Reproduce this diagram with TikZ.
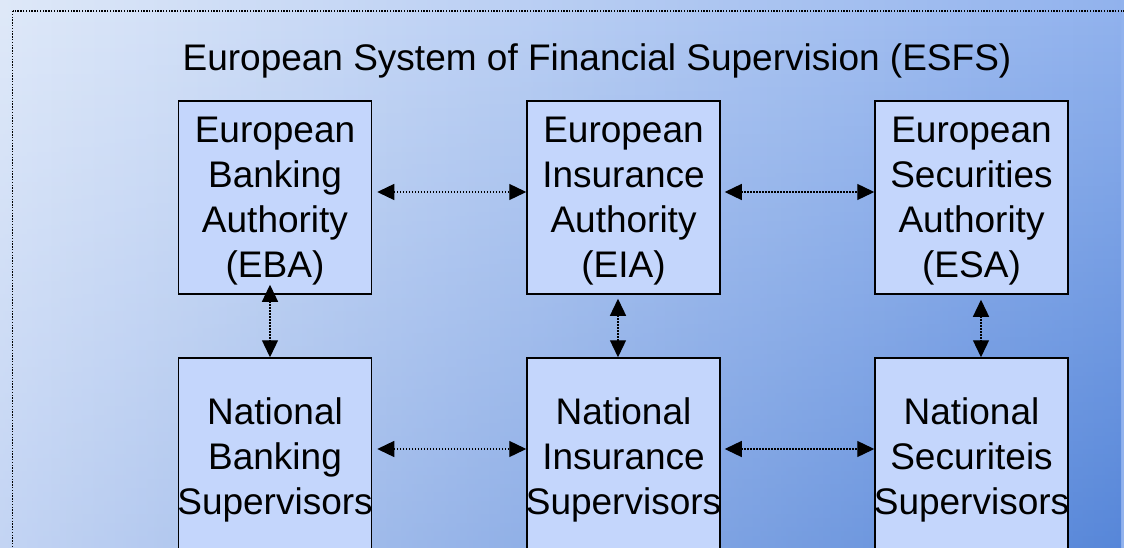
\documentclass[tikz,border=0pt]{standalone}
\usepackage{fontspec}
\setmainfont{Liberation Sans}
\usetikzlibrary{arrows.meta,fadings}
\definecolor{bgTL}{RGB}{223,233,249}
\definecolor{bgTR}{RGB}{146,179,238}
\definecolor{ovL}{RGB}{168,192,238}
\definecolor{ovR}{RGB}{27,90,196}
\definecolor{boxfill}{RGB}{196,214,252}
\tikzset{
  box/.style={draw=black, line width=1.5pt, fill=boxfill, minimum width=193pt, inner sep=0pt},
  toprow/.style={box, minimum height=193pt},
  botrow/.style={box, minimum height=204pt},
  lbl/.style={align=center, inner sep=0pt, font=\fontsize{37}{45}\selectfont},
  conn/.style={line width=1.3pt, dash pattern=on 1.5pt off 1.5pt, {Triangle[length=17pt,width=16pt]}-{Triangle[length=17pt,width=16pt]}}
}
\begin{document}
\begin{tikzpicture}[x=1pt,y=-1pt]
\useasboundingbox (0,0) rectangle (1124,548);
\clip (0,0) rectangle (1124,548);
% background
\shade[left color=bgTL, right color=bgTR] (0,0) rectangle (1124,548);
\shade[left color=ovL, right color=ovR, opacity=0.5, path fading=north] (0,0) rectangle (1124,548);
% outer dotted frame
\draw[line width=1.4pt, dash pattern=on 1.4pt off 1.4pt] (12.5,11) rectangle (1150,600);
% title
\node[lbl, anchor=base] (title) at (597,71) {European System of Financial Supervision (ESFS)};
% boxes
\node[toprow] (eba) at (275,197.5) {};
\node[toprow] (eia) at (623.5,197.5) {};
\node[toprow] (esa) at (971.5,197.5) {};
\node[botrow] (nbs) at (275,460) {};
\node[botrow] (nis) at (623.5,460) {};
\node[botrow] (nss) at (971.5,460) {};
% labels
\node[lbl] (ebat) at (275,201.4) {European\\Banking\\Authority\\(EBA)};
\node[lbl] (eiat) at (623.5,201.4) {European\\Insurance\\Authority\\(EIA)};
\node[lbl] (esat) at (971.5,201.4) {European\\Securities\\Authority\\(ESA)};
\node[lbl] (nbst) at (275,460) {National\\Banking\\Supervisors};
\node[lbl] (nist) at (623.5,460) {National\\Insurance\\Supervisors};
\node[lbl] (nsst) at (971.5,460) {National\\Securiteis\\Supervisors};
% connectors
\draw[conn] ([xshift=5pt,yshift=5.5pt]eba.east) -- ([yshift=5.5pt]eia.west);
\draw[conn] ([xshift=4pt,yshift=5.5pt]eia.east) -- ([yshift=5.5pt]esa.west);
\draw[conn] ([xshift=5pt,yshift=11pt]nbs.east) -- ([yshift=11pt]nis.west);
\draw[conn] ([xshift=4pt,yshift=11pt]nis.east) -- ([yshift=11pt]nss.west);
\draw[conn] ([xshift=-5pt,yshift=10pt]eba.south) -- ([xshift=-5pt]nbs.north);
\draw[conn] ([xshift=-5.5pt,yshift=-4pt]eia.south) -- ([xshift=-5.5pt]nis.north);
\draw[conn] ([xshift=9.5pt,yshift=-5pt]esa.south) -- ([xshift=9.5pt]nss.north);
\end{tikzpicture}
\end{document}
